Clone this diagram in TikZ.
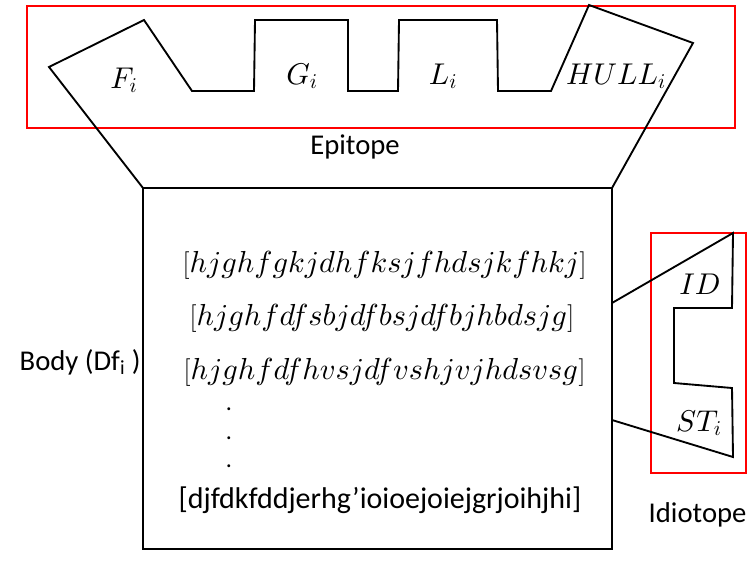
\documentclass[tikz,border=0pt]{standalone}
\usepackage{fontspec}
\setmainfont{Carlito}
\DeclareFontShape{OML}{cmm}{m}{it}{<->cmmi10}{}
\usetikzlibrary{positioning}

\tikzset{
  outline/.style = {line width=1.4pt, black, line join=miter},
  frame/.style = {line width=1pt, red},
  part/.style = {font=\fontsize{22.5}{26}\selectfont},
  caption/.style = {font=\fontsize{21.5}{25}\selectfont},
  seq/.style = {font=\fontsize{22.8}{26}\selectfont, anchor=west},
  dotmark/.style = {font=\fontsize{18}{20}\selectfont, inner sep=0pt, anchor=base}
}

\begin{document}
\begin{tikzpicture}[x = .75pt, y = -.75pt]
                \useasboundingbox (0,0) rectangle (748,567);
                % body corners
                \coordinate (bnw) at (143,188);
                \coordinate (bne) at (612,188);
                \coordinate (bse) at (612,549);
                \coordinate (itop) at (612,303);
                \coordinate (ibot) at (612,420);
                % red frames
                \draw[frame] (27,6) rectangle (735,128);
                \draw[frame] (651,233) rectangle (746,473);
                % epitope
                \draw[outline] (bnw) -- (49,67) -- (144,20) -- (192,91) -- (254,91)
                    -- (255,20) -- (348,20) -- (348,91) -- (398,91) -- (399,20)
                    -- (497,20) -- (498,91) -- (551,91) -- (589,5) -- (693,43) -- (bne);
                % body
                \draw[outline] (bnw) rectangle (bse);
                % idiotope
                \draw[outline] (itop) -- (733,233) -- (732,308) -- (674,308) -- (674,383)
                    -- (732,388) -- (733,457) -- (ibot);
                % labels
                \node[part] (fi) at (124,80) {$F_i$};
                \node[part] (gi) at (302,76) {$G_i$};
                \node[part] (li) at (443,76) {$L_i$};
                \node[part] (hull) at (616,76) {$HULL_i$};
                \node[caption] (epitope) at (355,147) {Epitope};
                \node[part] (id) at (700,284) {$ID$};
                \node[part] (st) at (699,423) {$ST_i$};
                \node[caption, anchor=west] (idiotope) at (644,515) {Idiotope};
                \node[caption, anchor=west] (bodylabel) at (15,362) {Body (Df\textsubscript{i} )};
                % sequences
                \node[seq] (s1) at (178,265) {$[hjghfgkjdhfksjfhdsjkfhkj]$};
                \node[seq] (s2) at (185,318) {$[hjghfdfsbjdfbsjdfbjhbdsjg]$};
                \node[seq] (s3) at (179,372) {$[hjghfdfhvsjdfvshjvjhdsvsg]$};
                \node[dotmark] (d1) at (229,410) {.};
                \node[dotmark] (d2) at (229,439) {.};
                \node[dotmark] (d3) at (229,467) {.};
                \node[caption, anchor=west, font=\fontsize{22.5}{26}\selectfont] (s4) at (174,500) {[djfdkfddjerhg’ioioejoiejgrjoihjhi]};
            \end{tikzpicture}
\end{document}
